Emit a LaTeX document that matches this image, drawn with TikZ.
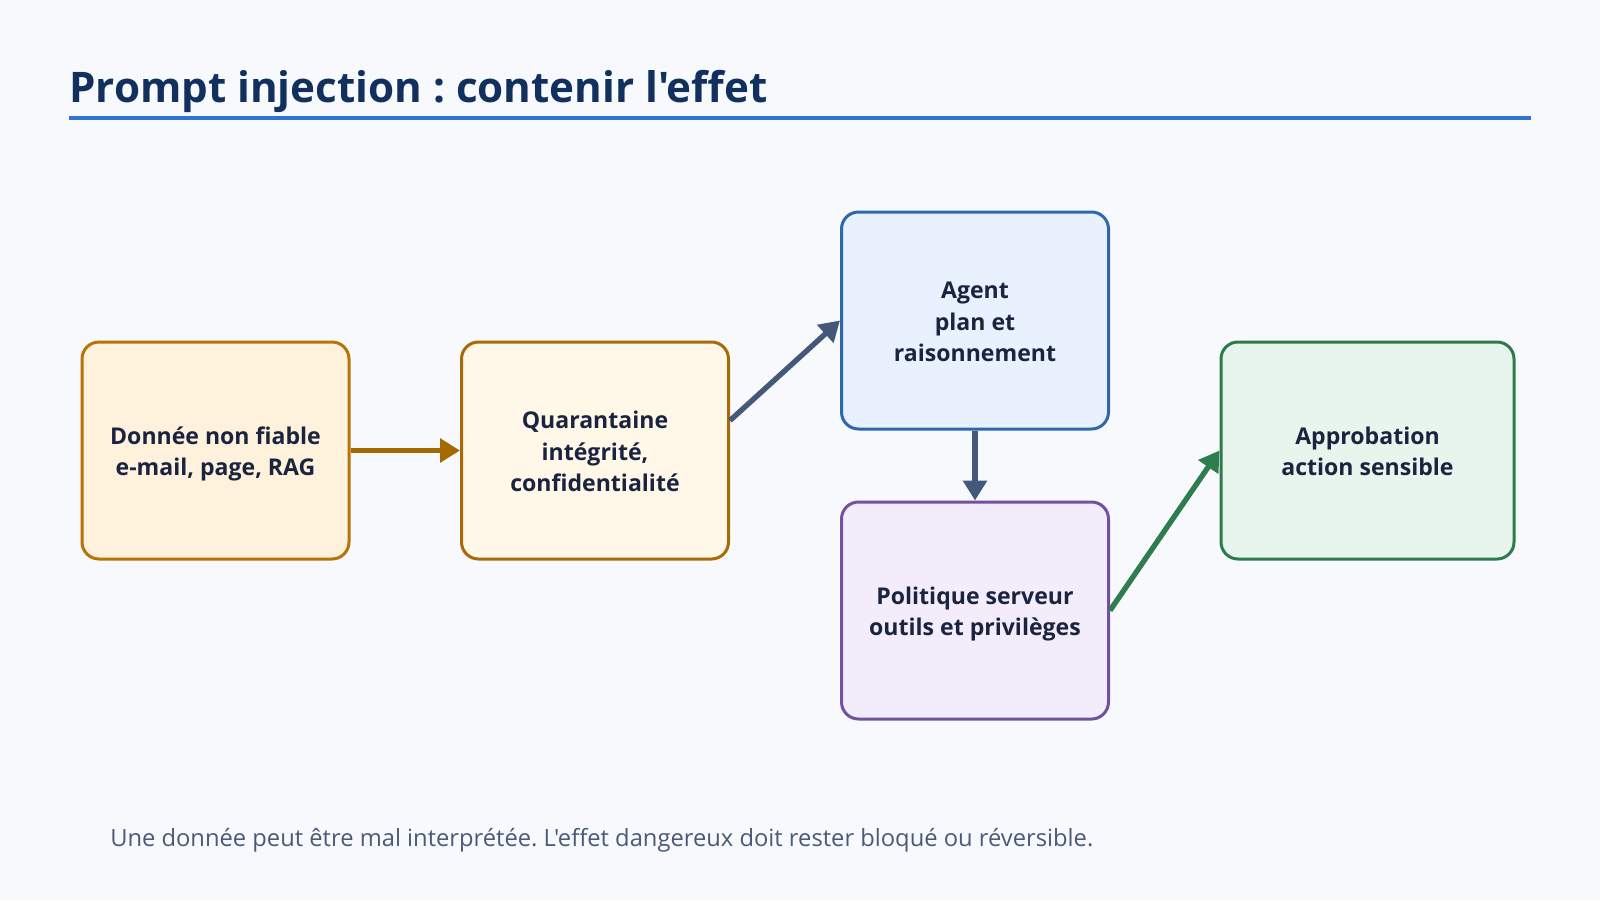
\documentclass[tikz,border=0pt]{standalone}
\usepackage{fontspec}
\setmainfont{Open Sans}[Ligatures=TeXOff]
\usetikzlibrary{arrows.meta,calc}
\frenchspacing

\definecolor{pagebg}{RGB}{247,249,252}
\definecolor{titlecol}{RGB}{17,48,94}
\definecolor{rulecol}{RGB}{47,116,208}
\definecolor{inkcol}{RGB}{26,35,64}
\definecolor{notecol}{RGB}{74,90,120}
\definecolor{srcfill}{RGB}{254,242,221}
\definecolor{srcdraw}{RGB}{184,115,5}
\definecolor{quafill}{RGB}{255,248,232}
\definecolor{quadraw}{RGB}{168,106,6}
\definecolor{agtfill}{RGB}{232,241,253}
\definecolor{agtdraw}{RGB}{47,103,173}
\definecolor{polfill}{RGB}{243,236,250}
\definecolor{poldraw}{RGB}{116,81,160}
\definecolor{appfill}{RGB}{231,245,236}
\definecolor{appdraw}{RGB}{47,122,76}
\definecolor{brownarrow}{RGB}{163,106,0}
\definecolor{slatearrow}{RGB}{68,88,122}
\definecolor{greenarrow}{RGB}{46,125,79}

% box label, set a little lower than the box centre
\newcommand\steptext[1]{\raisebox{-2.5pt}[\height][\depth]{\begin{tabular}{@{}c@{}}#1\end{tabular}}}

\tikzset{
  stepnode/.style={rounded corners=12.75pt, line width=2.25pt, align=center,
    minimum width=200.25pt, minimum height=162.75pt, inner sep=0pt,
    text=inkcol, font=\fontsize{17.3}{23.7}\selectfont\bfseries},
  flow/.style={line width=4pt, -{Triangle[length=15pt,width=17.5pt]}}
}

\begin{document}
\begin{tikzpicture}[x=0.75pt,y=0.75pt,yscale=-1,xscale=1]
%set diagram at 1600 x 900
\fill[pagebg] (0,0) rectangle (1600,900);
\useasboundingbox (0,0) rectangle (1600,900);

% Title
\node (title) [anchor=base west, inner sep=0pt, text=titlecol, font=\fontsize{31.6}{36}\selectfont\bfseries] at (69,102) {Prompt injection : contenir l'effet};
%Shape: Rule
\draw [rulecol, line width=3pt] (69,118) -- (1531,118);

% Boxes
\node (src) [stepnode, draw=srcdraw, fill=srcfill] at (215.5,450.5) {\steptext{Donnée non fiable\\e-mail, page, RAG}};
\node (qua) [stepnode, draw=quadraw, fill=quafill] at (595,450.5) {\steptext{Quarantaine\\intégrité,\\confidentialité}};
\node (agt) [stepnode, draw=agtdraw, fill=agtfill] at (975,320.5) {\steptext{Agent\\plan et\\raisonnement}};
\node (pol) [stepnode, draw=poldraw, fill=polfill] at (975,610.5) {\steptext{Politique serveur\\outils et privilèges}};
\node (app) [stepnode, draw=appdraw, fill=appfill, minimum width=219.75pt] at (1367.5,450.5) {\steptext{Approbation\\action sensible}};

% Arrows
\draw [flow, brownarrow] (src.east) -- (qua.west);
\draw [flow, slatearrow] ($(qua.east)+(0,-30)$) -- (agt.west);
\draw [flow, slatearrow] (agt.south) -- (pol.north);
\draw [flow, greenarrow] (pol.east) -- (app.west);

% Text Node
\node (note) [anchor=base west, inner sep=0pt, text=notecol, font=\fontsize{17.8}{20}\selectfont] at (110,846) {Une donnée peut être mal interprétée. L'effet dangereux doit rester bloqué ou réversible.};

\end{tikzpicture}
\end{document}
